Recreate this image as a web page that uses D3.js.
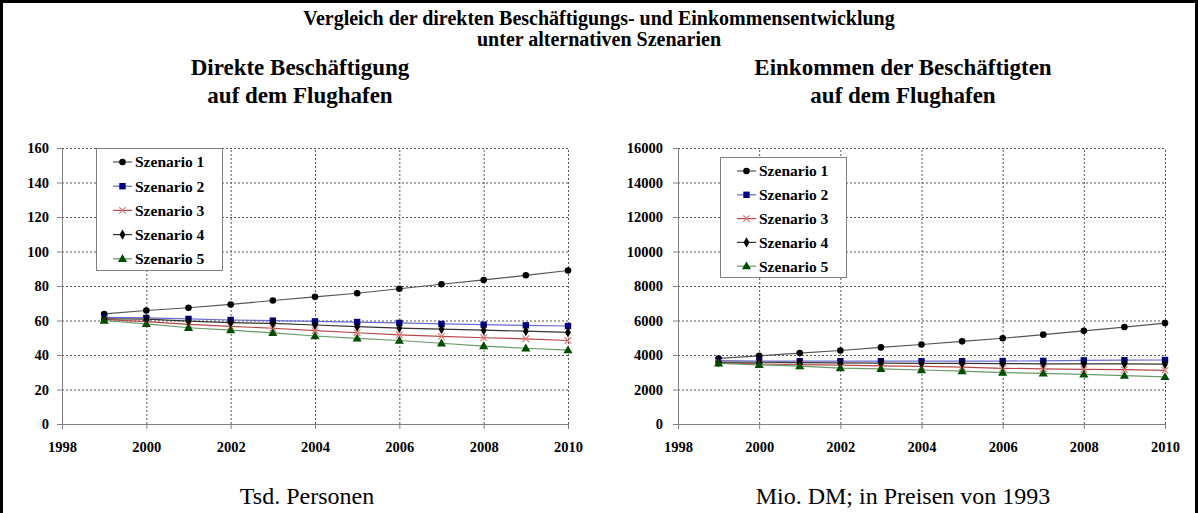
<!DOCTYPE html>
<html><head><meta charset="utf-8">
<script src="https://cdn.jsdelivr.net/npm/d3@7"></script>
<style>body{margin:0;background:#fff}svg{display:block}</style>
</head><body>
<svg id="c" width="1198" height="513"></svg>
<script>
const years = [1999,2000,2001,2002,2003,2004,2005,2006,2007,2008,2009,2010];
const seriesNames = ["Szenario 1","Szenario 2","Szenario 3","Szenario 4","Szenario 5"];
// Direkte Beschäftigung (Tsd. Personen)
const beschS1 = [63.8,65.8,67.4,69.3,71.6,73.7,75.8,78.4,81.0,83.5,86.2,89.0];
const beschS2 = [61.8,61.5,60.9,60.3,59.9,59.5,59.1,58.6,58.0,57.6,57.2,56.8];
const beschS3 = [60.6,59.3,57.8,56.6,55.5,54.1,52.9,51.7,50.8,50.0,49.4,48.4];
const beschS4 = [61.0,60.8,59.6,58.8,58.3,57.4,56.4,55.6,55.0,54.4,53.8,53.1];
const beschS5 = [60.0,58.0,55.8,54.4,52.8,51.0,49.6,48.4,46.8,45.2,43.9,42.8];
// Einkommen der Beschäftigten (Mio. DM)
const einkS1 = [3800,3950,4110,4260,4440,4610,4790,4970,5180,5400,5620,5850];
const einkS2 = [3680,3650,3640,3640,3640,3640,3640,3650,3660,3690,3700,3710];
const einkS3 = [3560,3480,3440,3410,3370,3340,3300,3230,3200,3170,3150,3110];
const einkS4 = [3590,3580,3560,3540,3530,3520,3510,3500,3490,3480,3480,3470];
const einkS5 = [3520,3430,3350,3240,3190,3130,3060,2980,2930,2880,2800,2730];
const xTicks = [1998,2000,2002,2004,2006,2008,2010];
const yTicksLeft = [0,20,40,60,80,100,120,140,160];
const yTicksRight = [0,2000,4000,6000,8000,10000,12000,14000,16000];

const styles = [
  {line:"#555555", fill:"#000000", sym:"circle"},
  {line:"#6a6ad0", fill:"#000080", sym:"square"},
  {line:"#b84848", fill:"#e07878", sym:"cross"},
  {line:"#333333", fill:"#000000", sym:"diamond"},
  {line:"#6a9a6a", fill:"#004d00", sym:"triangle"}
];

const svg = d3.select("#c");
const serif = "'Liberation Serif','Times New Roman',serif";

svg.append("rect").attr("x",1.5).attr("y",1.5).attr("width",1195).attr("height",530)
  .attr("fill","#fff").attr("stroke","#000").attr("stroke-width",3);

svg.append("text").attr("x",599).attr("y",25).attr("text-anchor","middle")
  .attr("font-family",serif).attr("font-weight","bold").attr("font-size",20)
  .text("Vergleich der direkten Beschäftigungs- und Einkommensentwicklung");
svg.append("text").attr("x",599).attr("y",46).attr("text-anchor","middle")
  .attr("font-family",serif).attr("font-weight","bold").attr("font-size",20)
  .text("unter alternativen Szenarien");

function marker(g, s, x, y) {
  if (s.sym === "circle") {
    g.append("circle").attr("cx",x).attr("cy",y).attr("r",3.3).attr("fill",s.fill);
  } else if (s.sym === "square") {
    g.append("rect").attr("x",x-3.2).attr("y",y-3.2).attr("width",6.4).attr("height",6.4).attr("fill",s.fill);
  } else if (s.sym === "cross") {
    g.append("path").attr("d",`M${x-3.3},${y-3.3}L${x+3.3},${y+3.3}M${x-3.3},${y+3.3}L${x+3.3},${y-3.3}`)
      .attr("stroke",s.fill).attr("stroke-width",1.2).attr("fill","none");
  } else if (s.sym === "diamond") {
    g.append("path").attr("transform",`translate(${x},${y})`)
      .attr("d",d3.symbol(d3.symbolDiamond,30)()).attr("fill",s.fill);
  } else {
    g.append("path").attr("transform",`translate(${x},${y+0.5})`)
      .attr("d",d3.symbol(d3.symbolTriangle,36)()).attr("fill",s.fill);
  }
}

function panel(cfg) {
  const x = d3.scaleLinear().domain([1998,2010]).range([cfg.x0,cfg.x1]);
  const y = d3.scaleLinear().domain([0,cfg.ymax]).range([cfg.y0,cfg.y1]);
  const g = svg.append("g");
  g.selectAll(".hg").data(cfg.yTicks.filter(d=>d>0)).join("line")
    .attr("x1",cfg.x0).attr("x2",cfg.x1).attr("y1",d=>y(d)+0.5).attr("y2",d=>y(d)+0.5)
    .attr("stroke","#555").attr("stroke-width",1).attr("stroke-dasharray","2,2");
  g.selectAll(".vg").data(cfg.xTicks.filter(d=>d>1998)).join("line")
    .attr("x1",d=>x(d)+0.5).attr("x2",d=>x(d)+0.5).attr("y1",cfg.y0).attr("y2",cfg.y1)
    .attr("stroke","#555").attr("stroke-width",1).attr("stroke-dasharray","2,2");
  const ax = g.append("g").attr("transform",`translate(0,${cfg.y0})`)
    .call(d3.axisBottom(x).tickValues(cfg.xTicks).tickFormat(d3.format("d")).tickSize(5).tickSizeOuter(0));
  ax.select(".domain").attr("stroke","#808080");
  ax.selectAll(".tick line").attr("stroke","#808080");
  ax.selectAll("text").attr("font-family",serif).attr("font-weight","bold").attr("font-size",14.5)
    .attr("fill","#000").attr("y",28).attr("dy",0);
  const ay = g.append("g").attr("transform",`translate(${cfg.x0},0)`)
    .call(d3.axisLeft(y).tickValues(cfg.yTicks).tickFormat(d3.format("d")).tickSize(5).tickSizeOuter(0));
  ay.select(".domain").attr("stroke","#808080");
  ay.selectAll(".tick line").attr("stroke","#808080");
  ay.selectAll("text").attr("font-family",serif).attr("font-weight","bold").attr("font-size",14.5)
    .attr("fill","#000").attr("x",-cfg.labelGap);
  const line = d3.line().x((d,i)=>x(years[i])).y(d=>y(d));
  cfg.series.forEach((vals,k)=>{
    g.append("path").attr("d",line(vals)).attr("fill","none").attr("stroke",styles[k].line).attr("stroke-width",1.2);
  });
  cfg.series.forEach((vals,k)=>{
    vals.forEach((v,i)=>marker(g,styles[k],x(years[i]),y(v)));
  });
  const L = cfg.legend;
  const lg = svg.append("g");
  lg.append("rect").attr("x",L.x+0.5).attr("y",L.y+0.5).attr("width",L.w).attr("height",L.h)
    .attr("fill","#fff").attr("stroke","#808080").attr("stroke-width",1);
  seriesNames.forEach((n,k)=>{
    const yy = L.y + L.first + k*L.step;
    const s = styles[k];
    lg.append("line").attr("x1",L.x+L.lx0).attr("x2",L.x+L.lx1).attr("y1",yy).attr("y2",yy)
      .attr("stroke",s.line).attr("stroke-width",1.2);
    marker(lg,s,L.x+(L.lx0+L.lx1)/2,yy);
    lg.append("text").attr("x",L.x+L.tx).attr("y",yy).attr("dy","0.35em")
      .attr("font-family",serif).attr("font-weight","bold").attr("font-size",15.5).text(n);
  });
  cfg.title.forEach((t,i)=>{
    svg.append("text").attr("x",cfg.tx).attr("y",75+i*28).attr("text-anchor","middle")
      .attr("font-family",serif).attr("font-weight","bold").attr("font-size",23).text(t);
  });
  svg.append("text").attr("x",cfg.fx).attr("y",504).attr("text-anchor","middle")
    .attr("font-family",serif).attr("font-size",24).text(cfg.foot);
}

panel({x0:62,x1:568,y0:424,y1:148,ymax:160,xTicks:xTicks,yTicks:yTicksLeft,labelGap:13,
  series:[beschS1,beschS2,beschS3,beschS4,beschS5],
  legend:{x:96,y:148,w:126,h:122,first:14,step:24.2,lx0:17,lx1:36,tx:39},
  title:["Direkte Beschäftigung","auf dem Flughafen"],tx:300,
  foot:"Tsd. Personen",fx:307});
panel({x0:678,x1:1165,y0:424,y1:148,ymax:16000,xTicks:xTicks,yTicks:yTicksRight,labelGap:15,
  series:[einkS1,einkS2,einkS3,einkS4,einkS5],
  legend:{x:720,y:157,w:126,h:120,first:14,step:23.8,lx0:17,lx1:36,tx:39},
  title:["Einkommen der Beschäftigten","auf dem Flughafen"],tx:903,
  foot:"Mio. DM; in Preisen von 1993",fx:903});
</script>
</body></html>
